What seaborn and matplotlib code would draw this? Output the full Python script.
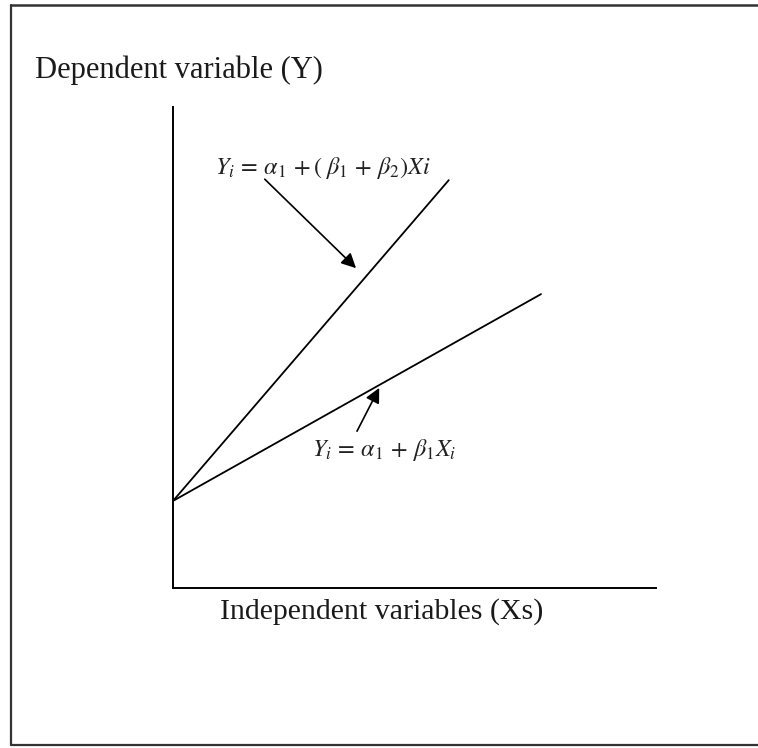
import numpy as np
import pandas as pd
import matplotlib
matplotlib.use('Agg')
import matplotlib.pyplot as plt
from matplotlib.lines import Line2D
import seaborn as sns

# line endpoints (axis units 0..10)
x_low  = [0.0, 7.62]
y_low  = [1.81, 6.11]
x_high = [0.0, 5.71]
y_high = [1.81, 8.48]

eq_high = r'$Y_i\,=\,\alpha_{\mathit{1}}\,+(\;\beta_{\mathit{1}}\,+\,\beta_2)Xi$'
eq_low  = r'$Y_i\,=\,\alpha_{\mathit{1}}\,+\,\beta_{\mathit{1}}X_i$'
ylab = 'Dependent variable (Y)'
xlab = 'Independent variables (Xs)'

sns.set_theme(style='white')
plt.rcParams['font.family'] = ['Liberation Serif', 'DejaVu Serif']
plt.rcParams['mathtext.fontset'] = 'stix'

df = pd.concat([
    pd.DataFrame({'x': x_low,  'y': y_low,  'line': 'low'}),
    pd.DataFrame({'x': x_high, 'y': y_high, 'line': 'high'}),
])

fig = plt.figure(figsize=(7.58, 7.48), dpi=100)
ax = fig.add_axes([0.2282, 0.2139, 0.6372, 0.6430])

sns.lineplot(data=df, x='x', y='y', units='line', estimator=None,
             color='black', lw=1.3, ax=ax, legend=False)

ax.set_xlim(0, 10); ax.set_ylim(0, 10)
ax.set_xticks([]); ax.set_yticks([])
ax.set_xlabel(''); ax.set_ylabel('')
for s in ['top', 'right']:
    ax.spines[s].set_visible(False)
for s in ['left', 'bottom']:
    ax.spines[s].set_color('black')
    ax.spines[s].set_linewidth(1.4)

# equation labels with arrows pointing at each line
ax.text(3.11, 8.73, eq_high, ha='center', va='center', fontsize=17.5, color='#222222')
ax.annotate('', xy=(3.79, 6.65), xytext=(1.90, 8.50),
            arrowprops=dict(arrowstyle='-|>', color='black', lw=1.2,
                            mutation_scale=22, shrinkA=0, shrinkB=0))
ax.text(4.38, 2.87, eq_low, ha='center', va='center', fontsize=17.5, color='#222222')
ax.annotate('', xy=(4.27, 4.16), xytext=(3.81, 3.26),
            arrowprops=dict(arrowstyle='-|>', color='black', lw=1.2,
                            mutation_scale=22, shrinkA=0, shrinkB=0))

fig.text(0.046, 0.896, ylab, ha='left', va='baseline', fontsize=22, color='#1a1a1a')
fig.text(0.290, 0.183, xlab, ha='left', va='center', fontsize=21.5, color='#1a1a1a')

# frame around the figure (no right edge visible in the original)
fc = '#333333'
fig.add_artist(Line2D([0.0145, 0.0145], [0.004, 0.9933], color=fc, lw=1.6, transform=fig.transFigure))
fig.add_artist(Line2D([0.0145, 1.0], [0.9933, 0.9933], color=fc, lw=1.8, transform=fig.transFigure))
fig.add_artist(Line2D([0.0145, 1.0], [0.004, 0.004], color=fc, lw=1.6, transform=fig.transFigure))

fig.savefig('out.png', dpi=100)
